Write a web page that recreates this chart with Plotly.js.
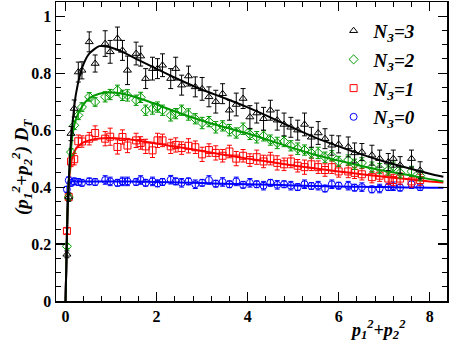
<!DOCTYPE html>
<html>
<head>
<meta charset="utf-8">
<script src="https://cdn.plot.ly/plotly-3.0.1.min.js"></script>
<style>
  html, body { margin: 0; padding: 0; background: #fff; }
  #chart { width: 449px; height: 343px; }
</style>
</head>
<body>
<div id="chart"></div>
<script>
// bin centres of p1^2+p2^2, shared by the four samples
var pT2 = [0.03, 0.07, 0.12, 0.19, 0.28, 0.36, 0.52, 0.65, 0.87, 0.98,
           1.14, 1.25, 1.36, 1.55, 1.65, 1.76, 1.91, 2.02, 2.13, 2.31,
           2.42, 2.55, 2.70, 2.85, 3.00, 3.15, 3.30, 3.45, 3.60, 3.75,
           3.90, 4.05, 4.20, 4.35, 4.50, 4.65, 4.80, 4.95, 5.10, 5.25,
           5.40, 5.55, 5.70, 5.85, 6.00, 6.21, 6.35, 6.51, 6.73, 6.90,
           7.09, 7.20, 7.35, 7.60, 7.79];

var dtN3 = [0.164, 0.365, 0.588, 0.676, 0.804, 0.810, 0.910, 0.834, 0.904, 0.875,
            0.922, 0.880, 0.810, 0.869, 0.860, 0.781, 0.816, 0.816, 0.828, 0.781,
            0.816, 0.758, 0.790, 0.752, 0.745, 0.717, 0.700, 0.728, 0.670, 0.690,
            0.711, 0.646, 0.660, 0.640, 0.670, 0.635, 0.620, 0.610, 0.600, 0.620,
            0.575, 0.590, 0.570, 0.547, 0.550, 0.541, 0.520, 0.523, 0.512, 0.500,
            0.488, 0.500, 0.477, 0.500, 0.459];
var errN3 = [0.012, 0.015, 0.025, 0.030, 0.035, 0.030, 0.035, 0.030, 0.045, 0.040,
             0.040, 0.035, 0.050, 0.040, 0.035, 0.035, 0.040, 0.035, 0.040, 0.035,
             0.040, 0.035, 0.035, 0.035, 0.040, 0.035, 0.040, 0.035, 0.035, 0.040,
             0.035, 0.040, 0.035, 0.040, 0.035, 0.035, 0.040, 0.035, 0.035, 0.040,
             0.035, 0.040, 0.035, 0.035, 0.030, 0.035, 0.035, 0.030, 0.035, 0.030,
             0.030, 0.030, 0.030, 0.030, 0.030];

var dtN2 = [0.192, 0.365, 0.523, 0.617, 0.652, 0.681, 0.717, 0.699, 0.717, 0.725,
            0.740, 0.722, 0.722, 0.705, 0.715, 0.670, 0.676, 0.681, 0.670, 0.652,
            0.658, 0.670, 0.655, 0.640, 0.625, 0.630, 0.610, 0.615, 0.600, 0.590,
            0.605, 0.585, 0.575, 0.580, 0.565, 0.555, 0.560, 0.545, 0.535, 0.530,
            0.520, 0.520, 0.505, 0.510, 0.490, 0.495, 0.480, 0.485, 0.470, 0.465,
            0.460, 0.470, 0.450, 0.455, 0.440];
var errN2 = [0.008, 0.010, 0.012, 0.015, 0.015, 0.015, 0.015, 0.015, 0.018, 0.018,
             0.018, 0.018, 0.020, 0.018, 0.018, 0.018, 0.020, 0.018, 0.018, 0.020,
             0.018, 0.018, 0.020, 0.018, 0.020, 0.018, 0.020, 0.018, 0.020, 0.018,
             0.020, 0.018, 0.020, 0.018, 0.018, 0.020, 0.018, 0.018, 0.020, 0.018,
             0.018, 0.020, 0.018, 0.018, 0.018, 0.018, 0.018, 0.018, 0.018, 0.018,
             0.018, 0.018, 0.018, 0.018, 0.018];

var dtN1 = [0.246, 0.365, 0.490, 0.498, 0.561, 0.560, 0.570, 0.590, 0.570, 0.577,
            0.541, 0.576, 0.546, 0.564, 0.555, 0.543, 0.529, 0.564, 0.564, 0.543,
            0.548, 0.537, 0.545, 0.540, 0.515, 0.530, 0.520, 0.510, 0.525, 0.500,
            0.510, 0.495, 0.505, 0.490, 0.500, 0.485, 0.480, 0.490, 0.475, 0.470,
            0.480, 0.470, 0.460, 0.470, 0.455, 0.455, 0.450, 0.445, 0.435, 0.440,
            0.430, 0.425, 0.430, 0.420, 0.425];
var errN1 = [0.010, 0.012, 0.018, 0.020, 0.022, 0.020, 0.022, 0.025, 0.025, 0.030,
             0.025, 0.025, 0.025, 0.025, 0.022, 0.025, 0.025, 0.025, 0.022, 0.025,
             0.025, 0.022, 0.025, 0.022, 0.025, 0.022, 0.025, 0.022, 0.022, 0.025,
             0.022, 0.022, 0.025, 0.022, 0.022, 0.025, 0.022, 0.022, 0.022, 0.025,
             0.022, 0.022, 0.022, 0.022, 0.020, 0.022, 0.020, 0.020, 0.020, 0.020,
             0.020, 0.020, 0.020, 0.020, 0.020];

var dtN0 = [0.392, 0.424, 0.415, 0.420, 0.418, 0.415, 0.420, 0.418, 0.425, 0.420,
            0.415, 0.420, 0.420, 0.418, 0.425, 0.415, 0.420, 0.413, 0.418, 0.426,
            0.420, 0.415, 0.420, 0.410, 0.415, 0.425, 0.412, 0.418, 0.410, 0.420,
            0.408, 0.415, 0.410, 0.405, 0.415, 0.408, 0.410, 0.405, 0.400, 0.410,
            0.404, 0.405, 0.395, 0.410, 0.405, 0.405, 0.398, 0.400, 0.392, 0.395,
            0.400, 0.403, 0.398, 0.410, 0.400];
var errN0 = [0.010, 0.012, 0.012, 0.012, 0.012, 0.012, 0.012, 0.012, 0.015, 0.015,
             0.012, 0.015, 0.015, 0.012, 0.015, 0.012, 0.015, 0.012, 0.012, 0.015,
             0.012, 0.015, 0.012, 0.015, 0.012, 0.015, 0.012, 0.015, 0.012, 0.015,
             0.012, 0.015, 0.012, 0.015, 0.012, 0.015, 0.012, 0.015, 0.012, 0.015,
             0.012, 0.015, 0.012, 0.015, 0.012, 0.015, 0.012, 0.015, 0.012, 0.015,
             0.012, 0.015, 0.012, 0.015, 0.012];

// fitted curves
var fitX  = [0, 0.02, 0.04, 0.06, 0.10, 0.15, 0.23, 0.37, 0.52, 0.74, 0.96, 1.25, 1.62, 2.0,
             2.5, 3.0, 3.5, 4.0, 4.5, 5.0, 5.5, 6.0, 6.5, 7.0, 7.5, 8.0, 8.3];
var fitN3 = [0, 0.15, 0.30, 0.38, 0.52, 0.62, 0.728, 0.822, 0.869, 0.895, 0.892, 0.875, 0.845, 0.815,
             0.777, 0.742, 0.712, 0.680, 0.645, 0.608, 0.573, 0.543, 0.515, 0.490, 0.468, 0.447, 0.436];
var fitN2 = [0, 0.15, 0.30, 0.39, 0.49, 0.58, 0.64, 0.685, 0.712, 0.728, 0.732, 0.728, 0.712, 0.690,
             0.660, 0.633, 0.610, 0.588, 0.563, 0.537, 0.513, 0.493, 0.474, 0.457, 0.443, 0.428, 0.420];
var fitN1 = [0, 0.15, 0.30, 0.39, 0.46, 0.505, 0.535, 0.555, 0.564, 0.571, 0.572, 0.570, 0.563, 0.553,
             0.540, 0.527, 0.513, 0.500, 0.488, 0.476, 0.465, 0.455, 0.445, 0.436, 0.428, 0.420, 0.416];
var fitN0 = [0, 0.15, 0.30, 0.39, 0.415, 0.42, 0.42, 0.42, 0.42, 0.42, 0.42, 0.42, 0.419, 0.418,
             0.416, 0.414, 0.412, 0.410, 0.408, 0.406, 0.404, 0.402, 0.401, 0.400, 0.399, 0.398, 0.398];

var serif = '"Liberation Serif", "Times New Roman", serif';

function points(name, rank, y, err, color, symbol){
	return {
		x: pT2, y: y, name: name, legendgroup: name, legendrank: rank,
		type: 'scatter', mode: 'markers',
		marker: {symbol: symbol, size: 7, color: color, line: {color: color, width: 1}},
		error_y: {type: 'data', array: err, visible: true, color: color, thickness: 1, width: 2.5},
		hoverinfo: 'x+y'
	};
}

function fit(y, color){
	return {
		x: fitX, y: y, type: 'scatter', mode: 'lines',
		line: {color: color, width: 2, shape: 'spline', smoothing: 0.6},
		showlegend: false, hoverinfo: 'skip'
	};
}

var data = [
	points('N<sub>3</sub>=0', 4, dtN0, errN0, 'rgb(0,0,255)', 'circle-open'),
	fit(fitN0, 'rgb(0,0,255)'),
	points('N<sub>3</sub>=1', 3, dtN1, errN1, 'rgb(255,0,0)', 'square-open'),
	fit(fitN1, 'rgb(255,0,0)'),
	points('N<sub>3</sub>=2', 2, dtN2, errN2, 'rgb(0,153,0)', 'diamond-open'),
	fit(fitN2, 'rgb(0,153,0)'),
	points('N<sub>3</sub>=3', 1, dtN3, errN3, 'rgb(0,0,0)', 'triangle-up-open'),
	fit(fitN3, 'rgb(0,0,0)')
];

var axisBase = {
	showline: true, linecolor: 'black', linewidth: 1.5, mirror: 'ticks',
	ticks: 'inside', ticklen: 9, tickwidth: 1.2, tickcolor: 'black',
	showgrid: false, zeroline: false,
	tickfont: {family: serif, size: 16, color: 'black', weight: 'bold'}
};

var layout = {
	width: 449, height: 343,
	margin: {l: 56, r: 2, t: 2, b: 42},
	paper_bgcolor: 'white', plot_bgcolor: 'white',
	font: {family: serif, color: 'black'},
	xaxis: Object.assign({}, axisBase, {
		range: [-0.21, 8.38], tickvals: [0, 2, 4, 6, 8],
		minor: {dtick: 0.4, tick0: 0, ticks: 'inside', ticklen: 5, tickcolor: 'black', tickwidth: 1}
	}),
	yaxis: Object.assign({}, axisBase, {
		range: [0, 1.05], tickvals: [0, 0.2, 0.4, 0.6, 0.8, 1],
		minor: {dtick: 0.05, tick0: 0, ticks: 'inside', ticklen: 5, tickcolor: 'black', tickwidth: 1}
	}),
	showlegend: true,
	legend: {
		x: 0.71, y: 0.967, xanchor: 'left', yanchor: 'top',
		traceorder: 'grouped', tracegroupgap: 1, bgcolor: 'rgba(0,0,0,0)',
		font: {family: serif, size: 19, color: 'black', weight: 'bold', style: 'italic'},
		itemwidth: 30
	},
	annotations: [
		{
			xref: 'paper', yref: 'paper', x: -0.088, y: 0.45,
			xanchor: 'center', yanchor: 'middle', textangle: -90, showarrow: false,
			text: '(p<sub>1</sub><sup>2</sup>+p<sub>2</sub><sup>2</sup>) D<sub>T</sub>',
			font: {family: serif, size: 19, color: 'black', weight: 'bold', style: 'italic'}
		},
		{
			xref: 'paper', yref: 'paper', x: 0.824, y: -0.095,
			xanchor: 'center', yanchor: 'middle', showarrow: false,
			text: 'p<sub>1</sub><sup>2</sup>+p<sub>2</sub><sup>2</sup>',
			font: {family: serif, size: 18, color: 'black', weight: 'bold', style: 'italic'}
		}
	]
};

Plotly.newPlot('chart', data, layout, {staticPlot: true, displayModeBar: false});
</script>
</body>
</html>
